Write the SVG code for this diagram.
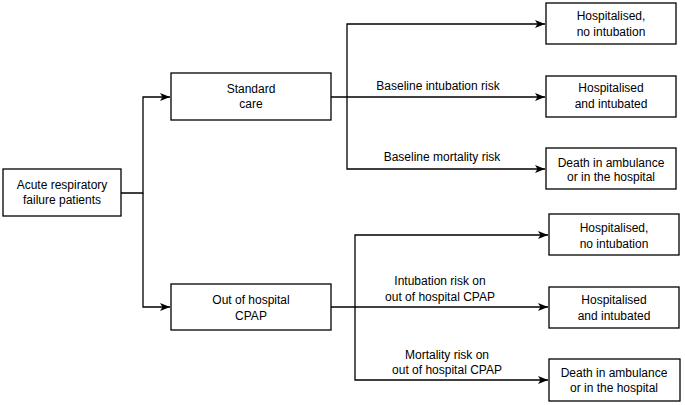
<svg xmlns="http://www.w3.org/2000/svg" width="685" height="405" viewBox="0 0 685 405">
<defs>
<style>
rect{fill:#fff;stroke:#000;stroke-width:1.3}
text{font-family:"Liberation Sans",Arial,sans-serif;font-size:12px;fill:#000;text-anchor:middle}
.c{fill:none;stroke:#000;stroke-width:1.3}
</style>
<marker id="a" viewBox="0 0 10 8" refX="10" refY="4" markerWidth="10" markerHeight="8" markerUnits="userSpaceOnUse" orient="auto">
<path d="M0,0 L10,4 L0,8 L2.5,4 z" fill="#000"/>
</marker>
</defs>
<g id="connectors">
<path class="c" d="M121,193 H143 V97 H170" marker-end="url(#a)"/>
<path class="c" d="M143,193 V307 H170" marker-end="url(#a)"/>
<path class="c" d="M331,97 H545" marker-end="url(#a)"/>
<path class="c" d="M347,97 V24 H545" marker-end="url(#a)"/>
<path class="c" d="M347,97 V169 H545" marker-end="url(#a)"/>
<path class="c" d="M331,307 H548" marker-end="url(#a)"/>
<path class="c" d="M355,307 V235 H548" marker-end="url(#a)"/>
<path class="c" d="M355,307 V380 H548" marker-end="url(#a)"/>
<text x="438" y="90">Baseline intubation risk</text>
<text x="442" y="161">Baseline mortality risk</text>
<text x="440" y="285">Intubation risk on</text>
<text x="440" y="301">out of hospital CPAP</text>
<text x="447" y="359">Mortality risk on</text>
<text x="447" y="374">out of hospital CPAP</text>
</g>
<g id="acute"><rect x="3" y="169" width="118" height="47"/><text x="62" y="189">Acute respiratory</text><text x="62" y="204">failure patients</text></g>
<g id="standard"><rect x="171" y="73" width="160" height="47"/><text x="251" y="93">Standard</text><text x="251" y="108">care</text></g>
<g id="cpap"><rect x="171" y="284" width="160" height="46"/><text x="251" y="304">Out of hospital</text><text x="251" y="320">CPAP</text></g>
<g id="s1"><rect x="546" y="3" width="130" height="41"/><text x="611" y="20">Hospitalised,</text><text x="611" y="36">no intubation</text></g>
<g id="s2"><rect x="546" y="76" width="130" height="41"/><text x="611" y="92">Hospitalised</text><text x="611" y="108">and intubated</text></g>
<g id="s3"><rect x="546" y="148" width="130" height="41"/><text x="611" y="167">Death in ambulance</text><text x="611" y="181">or in the hospital</text></g>
<g id="c1"><rect x="549" y="214" width="130" height="41"/><text x="614" y="232">Hospitalised,</text><text x="614" y="248">no intubation</text></g>
<g id="c2"><rect x="549" y="287" width="130" height="41"/><text x="614" y="304">Hospitalised</text><text x="614" y="320">and intubated</text></g>
<g id="c3"><rect x="549" y="359" width="131" height="42"/><text x="614" y="377">Death in ambulance</text><text x="614" y="392">or in the hospital</text></g>
</svg>
